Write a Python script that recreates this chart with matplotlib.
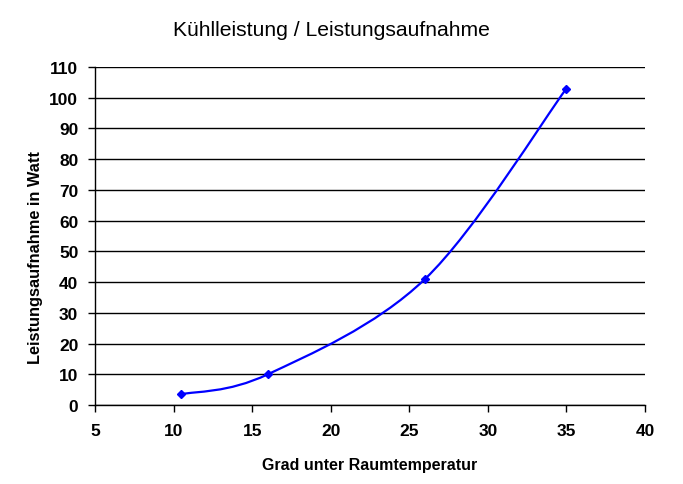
import matplotlib
matplotlib.use("Agg")
import matplotlib.pyplot as plt
import numpy as np
from matplotlib.path import Path
from matplotlib.patches import PathPatch

plt.rcParams['font.family'] = ['Liberation Sans', 'DejaVu Sans']

# Messwerte
grad = [10.5, 16, 26, 35]
watt = [3.5, 10, 41, 103]
x_ticks = [5, 10, 15, 20, 25, 30, 35, 40]
y_ticks = list(range(0, 111, 10))


def smooth_path(xs, ys):
    # geglaettete Linie wie in Excel (Bezier, Catmull-Rom Tangenten)
    pts = np.column_stack([xs, ys]).astype(float)
    n = len(pts)
    verts = [pts[0]]
    codes = [Path.MOVETO]
    for i in range(n - 1):
        p0 = pts[i - 1] if i > 0 else pts[i]
        p1 = pts[i]
        p2 = pts[i + 1]
        p3 = pts[i + 2] if i + 2 < n else pts[i + 1]
        c1 = p1 + (p2 - p0) / 6
        c2 = p2 - (p3 - p1) / 6
        verts += [c1, c2, p2]
        codes += [Path.CURVE4] * 3
    return Path(verts, codes)


fig = plt.figure(figsize=(6.83, 4.85), dpi=100)
ax = fig.add_axes([95 / 683, 1 - 406 / 485, 550 / 683, 338 / 485])

ax.set_xlim(5, 40)
ax.set_ylim(0, 110)
ax.set_xticks(x_ticks)
ax.set_yticks(y_ticks)
ax.yaxis.grid(True, color='black', linewidth=1)
ax.set_axisbelow(True)
for s in ['top', 'right']:
    ax.spines[s].set_visible(False)
for s in ['left', 'bottom']:
    ax.spines[s].set_linewidth(1)
ax.tick_params(direction='out', length=5, width=1, labelsize=12.5)
ax.tick_params(axis='x', pad=8)
ax.tick_params(axis='y', pad=7)
for lab in ax.get_xticklabels() + ax.get_yticklabels():
    lab.set_fontweight('bold')

ax.add_patch(PathPatch(smooth_path(grad, watt), facecolor='none', edgecolor='#0000ff', linewidth=1.6))
ax.plot(grad, watt, linestyle='none', marker='D', markersize=4, color='#0000ff')

ax.set_xlabel('Grad unter Raumtemperatur', fontsize=11.5, fontweight='bold', va='center')
ax.set_ylabel('Leistungsaufnahme in Watt', fontsize=11.8, fontweight='bold', va='center')
ax.xaxis.set_label_coords(0.5, -0.175)
ax.yaxis.set_label_coords(-0.108, 0.44)
fig.text(0.485, 0.937, 'Kühlleistung / Leistungsaufnahme', fontsize=15.2, ha='center', va='center')

fig.savefig('out.png', dpi=100)
